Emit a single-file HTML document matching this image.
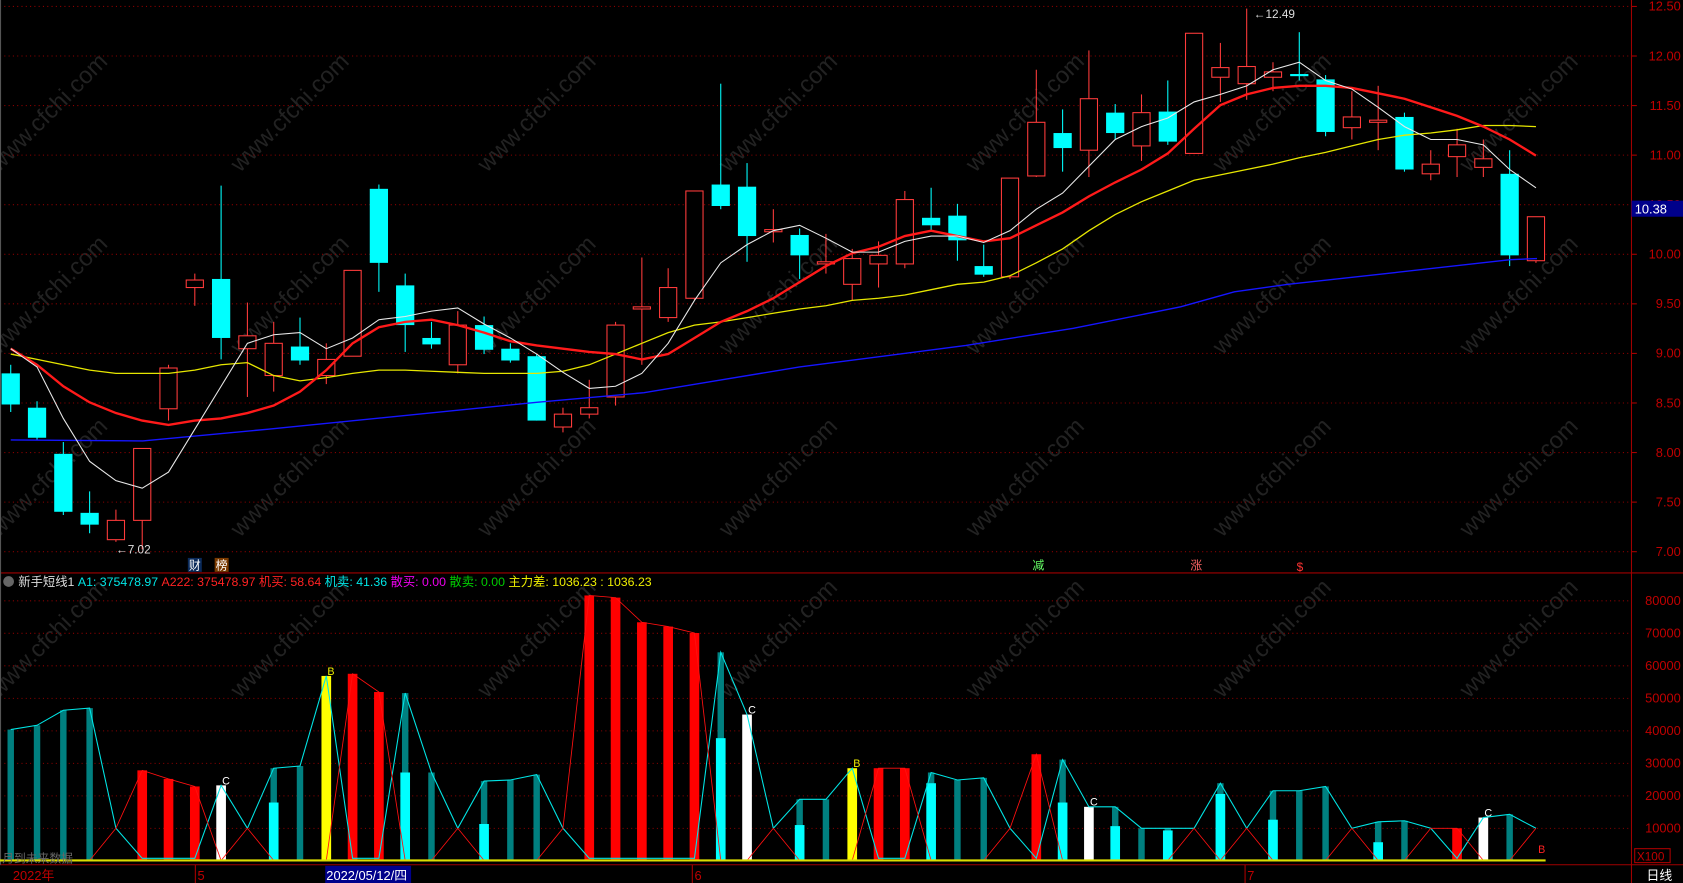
<!DOCTYPE html>
<html><head><meta charset="utf-8"><style>
html,body{margin:0;padding:0;background:#000;overflow:hidden}
svg{display:block}
text{font-family:"Liberation Sans","Noto Sans CJK SC",sans-serif}
</style></head><body>
<svg id="s" width="1683" height="883" viewBox="0 0 1568 823" preserveAspectRatio="none" xmlns="http://www.w3.org/2000/svg"></svg>
<script>
const s=document.getElementById('s');let h='';
h+='<rect width="1568" height="823" fill="#000"/>';
for(const y of [110,280,450,600]){for(const x of [50,275,505,730,960,1190,1420]){
 h+=`<text x="${x}" y="${y}" transform="rotate(-45 ${x} ${y})" font-size="22" fill="#222" text-anchor="middle">www.cfchi.com</text>`;}}
for(let i=0;i<12;i++){const y=6+i*46.2;h+=`<line x1="0" y1="${y}" x2="1520" y2="${y}" stroke="#8a0000" stroke-dasharray="1,3"/>`;
 const p=(12.5-i*0.5).toFixed(2);h+=`<text x="1566" y="${y+4}" font-size="12" fill="#c00000" text-anchor="end">${p}</text><line x1="1520" y1="${y}" x2="1525" y2="${y}" stroke="#a00"/>`;}
for(let i=0;i<8;i++){const y=560+i*30.3;h+=`<line x1="0" y1="${y}" x2="1520" y2="${y}" stroke="#8a0000" stroke-dasharray="1,3"/>`;
 h+=`<text x="1566" y="${y+4}" font-size="12" fill="#c00000" text-anchor="end">${80000-i*10000}</text>`;}
h+='<line x1="1520" y1="0" x2="1520" y2="823" stroke="#a00000"/><line x1="0" y1="534" x2="1568" y2="534" stroke="#a00000"/><line x1="0" y1="806" x2="1568" y2="806" stroke="#a00000"/><line x1="0.5" y1="0" x2="0.5" y2="806" stroke="#555"/>';
h+='<rect x="1520" y="187" width="48" height="15" fill="#00008b"/><text x="1523" y="199" font-size="12" fill="#fff">10.38</text>';
const C=[[340,348,377,384,0],[374,380,408,410,0],[412,423,477,480,0],[458,478,489,497,0],[475,485,503,505,1],[418,418,485,512,1],[340,343,381,392,1],[255,261,268,285,1],[173,260,315,335,0],[282,313,325,370,1],[300,320,350,365,1],[296,323,336,340,0],[320,335,350,358,1],[252,252,332,332,1],[172,176,245,272,0],[255,266,303,328,0],[300,315,321,325,0],[290,303,340,348,1],[295,303,326,330,0],[320,325,336,338,0],[330,332,392,392,0],[380,386,398,403,1],[354,380,386,390,1],[300,303,370,378,1],[240,286,288,340,1],[250,268,296,300,1],[178,178,278,280,1],[78,172,192,195,0],[152,174,220,244,0],[195,214,216,226,1],[213,219,238,260,0],[218,244,246,255,1],[232,241,265,280,1],[225,238,246,268,1],[178,186,246,250,1],[175,203,210,215,0],[190,201,224,243,0],[228,248,256,258,0],[166,166,258,260,1],[65,114,164,165,1],[102,124,138,160,0],[47,92,140,165,1],[97,105,124,130,0],[88,105,136,150,1],[75,104,132,135,0],[31,31,143,143,1],[40,63,72,95,1],[8,62,78,93,1],[58,67,72,85,1],[30,69,71,75,0],[70,74,123,127,0],[85,109,119,130,1],[80,112,114,140,1],[105,109,158,160,0],[140,153,162,168,1],[120,135,146,165,1],[130,148,156,165,1],[140,162,238,248,0],[202,202,243,245,1]];
const X=i=>10+i*24.5;
function pl(pts,c,w){return `<polyline points="${pts.map(p=>p.join(',')).join(' ')}" fill="none" stroke="${c}" stroke-width="${w}"/>`;}
const blue=[[10,410],[133,411],[250,400],[500,375],[600,366],[745,342],[900,322],[1000,306],[1100,286],[1150,272],[1200,265],[1300,254],[1407,242],[1432,241]];
const yel=[330,335,340,345,348,348,348,345,340,338,350,355,352,348,345,345,346,347,348,348,348,346,340,330,320,310,303,300,296,292,288,285,280,278,275,270,265,263,257,245,232,215,200,188,178,168,163,158,153,147,142,136,130,126,124,121,117,117,118];
const red=[325,340,360,375,385,392,396,392,390,385,378,365,345,320,305,300,298,303,310,318,322,325,328,330,335,330,315,300,290,278,263,248,236,230,220,215,220,225,222,210,198,183,170,158,143,120,98,88,82,80,80,82,87,92,100,108,118,130,145];
const wht=[325,342,390,430,448,455,440,400,360,320,312,310,325,315,298,295,290,287,302,315,330,347,362,360,348,320,280,245,228,215,210,222,235,235,225,220,220,226,215,195,180,155,130,118,110,95,88,80,65,58,75,83,100,118,130,130,135,158,175];
C.forEach((c,i)=>{const x=X(i);const col=c[4]?'#ff3b3b':'#00ffff';
 h+=`<line x1="${x}" y1="${c[0]}" x2="${x}" y2="${c[3]}" stroke="${col}"/>`;
 const hh=Math.max(1,c[2]-c[1]);
 if(c[4])h+=`<rect x="${x-8}" y="${c[1]}" width="16" height="${hh}" fill="#000" stroke="${col}"/>`;
 else h+=`<rect x="${x-8.5}" y="${c[1]}" width="17" height="${hh}" fill="${col}"/>`;});
h+=pl(blue,'#1515ff',1.3);
h+=pl(yel.map((y,i)=>[X(i),y]),'#e6e600',1.2);
h+=pl(red.map((y,i)=>[X(i),y]),'#ff1a1a',2.2);
h+=pl(wht.map((y,i)=>[X(i),y]),'#e8e8e8',1);
h+='<text x="1168" y="17" font-size="11" fill="#ddd">&#8592;12.49</text><text x="108" y="516" font-size="11" fill="#ddd">&#8592;7.02</text>';
h+='<rect x="175" y="520" width="13" height="13" fill="#0a2a5a"/><text x="176" y="531" font-size="11" fill="#fff">财</text>';
h+='<rect x="200" y="520" width="13" height="13" fill="#7a3a00"/><text x="201" y="531" font-size="11" fill="#fff">榜</text>';
h+='<text x="962" y="531" font-size="11" fill="#6f6">减</text><text x="1109" y="531" font-size="11" fill="#f66">涨</text><text x="1208" y="532" font-size="11" fill="#f33">$</text>';
h+='<circle cx="8" cy="542" r="5" fill="#666"/><text font-size="11.5" y="546"><tspan x="17" fill="#ddd">新手短线1</tspan><tspan fill="#00e5e5"> A1: 375478.97 </tspan><tspan fill="#f22"> A222: 375478.97 </tspan><tspan fill="#f22"> 机买: 58.64 </tspan><tspan fill="#00e5e5"> 机卖: 41.36 </tspan><tspan fill="#e0e"> 散买: 0.00 </tspan><tspan fill="#0c0"> 散卖: 0.00 </tspan><tspan fill="#ee0"> 主力差: 1036.23 </tspan><tspan fill="#ee0">  : 1036.23</tspan></text>';
const V=[['t',680],['t',676],['t',662],['t',660],['n',0],['r',718],['r',726],['r',733],['w',732],['n',0],['t',716,748],['t',714],['y',630],['r',628],['r',645],['t',646,720],['t',720],['n',0],['t',728,768],['t',727],['t',722],['n',0],['r',555],['r',557],['r',580],['r',584],['r',590],['t',608,688],['w',666],['n',0],['t',745,769],['t',745],['y',716],['r',716],['r',716],['t',720,730],['t',727],['t',725],['n',0],['r',703],['t',708,748],['w',752],['t',752,770],['t',772],['t',772,774],['n',0],['t',730,740],['n',0],['t',737,764],['t',737],['t',733],['n',0],['t',766,785],['t',765],['n',0],['r',772],['w',762],['t',759],['n',0]];
const B=802;const cy=[],ry=[];
V.forEach((v,i)=>{const x=X(i);const [t,top,ct]=v;
 if(t==='t'){h+=`<rect x="${x-3}" y="${top}" width="6" height="${B-top}" fill="#008080"/>`;if(ct)h+=`<rect x="${x-4.5}" y="${ct}" width="9" height="${B-ct}" fill="#00ffff"/>`;cy.push([x,top]);ry.push([x,B]);}
 else if(t==='r'){h+=`<rect x="${x-4.5}" y="${top}" width="9" height="${B-top}" fill="#ff0000"/>`;ry.push([x,top]);cy.push([x,B-2]);}
 else if(t==='w'||t==='y'){h+=`<rect x="${x-4.5}" y="${top}" width="9" height="${B-top}" fill="${t==='w'?'#fff':'#ffff00'}"/>`;cy.push([x,top]);ry.push([x,B]);
   h+=`<text x="${x+1}" y="${top-1}" font-size="10" fill="${t==='w'?'#fff':'#ee0'}">${t==='w'?'C':'B'}</text>`;}
 else {cy.push([x,B-30]);ry.push([x,B-30]);}
});
h+=pl(cy,'#00e5e5',1);h+=pl(ry,'#ff1010',0.8);
h+='<text x="1433" y="795" font-size="10" fill="#f22">B</text>';
h+=`<line x1="0" y1="802" x2="1440" y2="802" stroke="#dddd00" stroke-width="2"/>`;
h+='<text x="12" y="820" font-size="12" fill="#c00000">2022年</text><text x="184" y="820" font-size="12" fill="#c00000">5</text><text x="647" y="820" font-size="12" fill="#c00000">6</text><text x="1162" y="820" font-size="12" fill="#c00000">7</text>';
h+='<line x1="182" y1="806" x2="182" y2="823" stroke="#a00"/><line x1="645" y1="806" x2="645" y2="823" stroke="#a00"/><line x1="1160" y1="806" x2="1160" y2="823" stroke="#a00"/>';
h+='<rect x="303" y="807" width="80" height="16" fill="#00008b"/><text x="304" y="820" font-size="12" fill="#fff">2022/05/12/四</text>';
h+='<text x="2" y="804" font-size="11" fill="#666">月到未来数据</text>';
h+='<rect x="1523" y="791" width="33" height="13" fill="none" stroke="#a00"/><text x="1525" y="802" font-size="11" fill="#c00000">X100</text><text x="1534" y="820" font-size="12" fill="#fff">日线</text>';
s.innerHTML=h;
</script>
</body></html>
